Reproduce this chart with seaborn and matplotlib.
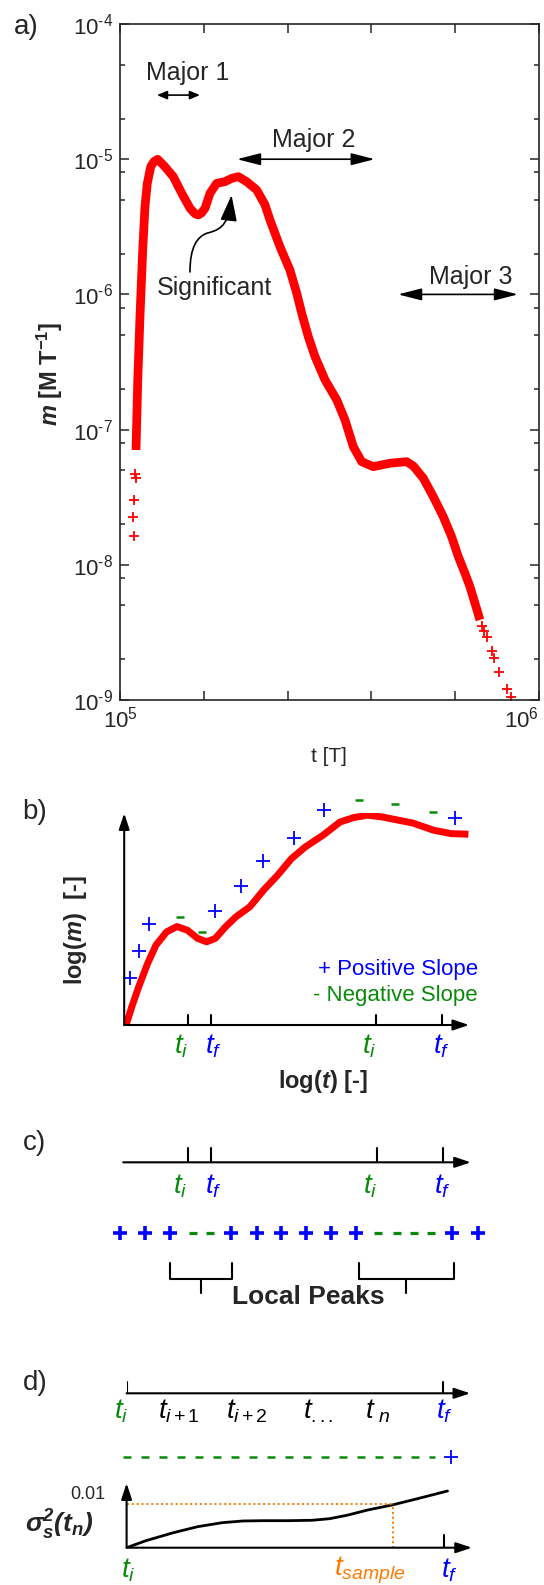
import numpy as np
import pandas as pd
import seaborn as sns
import matplotlib
matplotlib.use("Agg")
import matplotlib.pyplot as plt
from matplotlib.path import Path
from matplotlib.patches import FancyArrowPatch
from matplotlib.ticker import FixedLocator, NullFormatter

# ---------------------------------------------------------------- data
# a) response m(t): dense band of samples
t_band = [1.092e5, 1.102e5, 1.116e5, 1.133e5, 1.147e5, 1.162e5, 1.184e5, 1.205e5,
          1.230e5, 1.280e5, 1.340e5, 1.404e5, 1.469e5, 1.510e5, 1.538e5, 1.565e5,
          1.596e5, 1.640e5, 1.701e5, 1.780e5, 1.848e5, 1.916e5, 2.006e5, 2.120e5,
          2.219e5, 2.280e5, 2.409e5, 2.545e5, 2.641e5, 2.715e5, 2.815e5, 2.921e5,
          3.086e5, 3.290e5, 3.443e5, 3.604e5, 3.774e5, 4.023e5, 4.410e5, 4.833e5,
          5.012e5, 5.295e5, 5.594e5, 5.909e5, 6.188e5, 6.418e5, 6.658e5, 6.843e5,
          7.034e5, 7.230e5]
m_band = [7.06e-8, 2.20e-7, 6.84e-7, 2.13e-6, 4.45e-6, 6.63e-6, 8.80e-6, 9.60e-6,
          9.98e-6, 8.80e-6, 7.43e-6, 5.60e-6, 4.34e-6, 3.95e-6, 3.87e-6, 4.00e-6,
          4.34e-6, 5.60e-6, 6.63e-6, 6.82e-6, 7.22e-6, 7.43e-6, 6.82e-6, 5.92e-6,
          4.59e-6, 3.55e-6, 2.25e-6, 1.51e-6, 1.02e-6, 7.25e-7, 4.86e-7, 3.46e-7,
          2.33e-7, 1.66e-7, 1.18e-7, 7.48e-8, 5.79e-8, 5.32e-8, 5.64e-8, 5.79e-8,
          5.38e-8, 4.37e-8, 3.19e-8, 2.27e-8, 1.61e-8, 1.15e-8, 8.65e-9, 6.89e-9,
          5.19e-9, 3.91e-9]
# isolated early and late samples
t_sparse = [1.086e5, 1.090e5, 1.082e5, 1.076e5, 1.080e5,
            7.320e5, 7.404e5, 7.502e5, 7.710e5, 7.821e5, 8.039e5, 8.399e5, 8.573e5]
m_sparse = [4.70e-8, 4.37e-8, 3.01e-8, 2.27e-8, 1.64e-8,
            3.55e-9, 3.26e-9, 2.94e-9, 2.32e-9, 2.03e-9, 1.62e-9, 1.20e-9, 1.05e-9]
# time ranges of the major features
major_names = ["Major 1", "Major 2", "Major 3"]
major_t0 = [1.225e5, 1.902e5, 4.609e5]
major_t1 = [1.552e5, 4.055e5, 8.910e5]
major_m = [2.98e-5, 1.0e-5, 1.0e-6]

# b) schematic log(m) vs log(t)
b_logt = [0.000, 0.007, 0.022, 0.042, 0.068, 0.092, 0.123, 0.153, 0.183, 0.213, 0.239,
          0.264, 0.294, 0.324, 0.364, 0.404, 0.445, 0.485, 0.525, 0.576, 0.626,
          0.666, 0.706, 0.747, 0.787, 0.837, 0.897, 0.948, 0.998]
b_logm = [0.000, 0.008, 0.086, 0.180, 0.291, 0.377, 0.440, 0.465, 0.448, 0.409, 0.393,
          0.409, 0.464, 0.511, 0.558, 0.637, 0.708, 0.786, 0.841, 0.896, 0.959,
          0.980, 0.991, 0.983, 0.970, 0.954, 0.920, 0.904, 0.901]
pos_slope_t = [0.017, 0.042, 0.072, 0.262, 0.339, 0.402, 0.493, 0.578, 0.958]
pos_slope_m = [0.220, 0.349, 0.476, 0.538, 0.656, 0.775, 0.885, 1.017, 0.980]
neg_slope_t = [0.161, 0.225, 0.681, 0.784, 0.895]
neg_slope_m = [0.511, 0.440, 1.061, 1.046, 1.006]
peak_ticks = [0.186, 0.251, 0.730, 0.921]
peak_label_pos = [0.165, 0.259, 0.711, 0.920]
peak_labels = ["i", "f", "i", "f"]

# c) slope sign sequence
sign_seq = ["+", "+", "+", "-", "-", "+", "+", "+", "+", "+", "+",
            "-", "-", "-", "-", "+", "+"]
sign_pos = [-0.013, 0.060, 0.133, 0.200, 0.250, 0.309, 0.385, 0.455, 0.528,
            0.601, 0.673, 0.736, 0.790, 0.840, 0.890, 0.951, 1.025]
c_ticks = [0.186, 0.251, 0.732, 0.925]
c_label_pos = [0.163, 0.259, 0.714, 0.923]
peak_groups = [(0.133, 0.312, 0.222), (0.681, 0.956, 0.817)]

# d) running variance inside one peak
d_labels = [r"$t_i$", r"$t_{i+1}$", r"$t_{i+2}$", r"$t_{...}$", r"$t_{\ n}$", r"$t_f$"]
d_label_pos = [-0.015, 0.152, 0.351, 0.557, 0.729, 0.924]
d_label_col = ["green", "black", "black", "black", "black", "blue"]
sig_t = [0.000, 0.056, 0.136, 0.207, 0.278, 0.338, 0.399, 0.470, 0.540, 0.591,
         0.641, 0.702, 0.773, 0.843, 0.934]
sig_var = [0.0, 0.00160, 0.00343, 0.00481, 0.00572, 0.00611, 0.00618, 0.00618,
           0.00627, 0.00664, 0.00741, 0.00863, 0.00977, 0.01114, 0.01297]
var_threshold = 0.01
t_sample = 0.775

# ---------------------------------------------------------------- style
sns.set_style("ticks")
plt.rcParams["font.family"] = ["Liberation Sans", "DejaVu Sans"]
plt.rcParams["mathtext.fontset"] = "custom"
plt.rcParams["mathtext.rm"] = "Liberation Sans"
plt.rcParams["mathtext.it"] = "Liberation Sans:italic"
plt.rcParams["mathtext.bf"] = "Liberation Sans:bold"
plt.rcParams["mathtext.bfit"] = "Liberation Sans:italic:bold"
plt.rcParams["mathtext.sf"] = "Liberation Sans"
plt.rcParams["axes.unicode_minus"] = False

GREEN = "#0a8a0a"
BLUE = "#0000ff"
ORANGE = "#ff7a00"
W, H = 544, 1585
fig = plt.figure(figsize=(W / 100, H / 100), dpi=100)


def rect(l, t, r, b):
    return [l / W, 1 - b / H, (r - l) / W, (b - t) / H]


def arrow(ax, x0, y0, x1, y1, style="-|>,head_length=0.6,head_width=0.2",
          scale=16, lw=1.5, color="black"):
    ax.annotate("", xy=(x1, y1), xytext=(x0, y0),
                arrowprops=dict(arrowstyle=style, mutation_scale=scale, lw=lw,
                                color=color, shrinkA=0, shrinkB=0),
                annotation_clip=False)


def blank(ax):
    ax.set_axis_off()
    ax.set_xlim(0, 1)
    ax.set_ylim(0, 1)


def pow10(e):
    if e < 0:
        return rf"$10^{{\text{{-{abs(e)}}}}}$"
    return rf"$10^{{{e}}}$"


# ---------------------------------------------------------------- panel a
ax = fig.add_axes(rect(120, 24, 539, 700))
ax.set_xscale("log")
ax.set_yscale("log")
sns.lineplot(x=t_band, y=m_band, sort=False, estimator=None, color="red",
             lw=6.3, ax=ax, solid_capstyle="butt", solid_joinstyle="round")
sns.scatterplot(x=t_sparse, y=m_sparse, marker="+", color="red", s=55,
                linewidth=1.3, ax=ax)
ax.set_xlim(1e5, 1e6)
ax.set_ylim(1e-9, 1e-4)
ax.set_xticks([1e5, 1e6], labels=[pow10(5), pow10(6)])
ax.get_xticklabels()[1].set_horizontalalignment("right")
ax.xaxis.set_minor_locator(FixedLocator([10 ** 5.2, 10 ** 5.4, 10 ** 5.6, 10 ** 5.8]))
ax.xaxis.set_minor_formatter(NullFormatter())
ydec = list(range(-9, -3))
ax.set_yticks([10.0 ** e for e in ydec], labels=[pow10(e) for e in ydec])
ym = [k * 10.0 ** e for e in range(-9, -4) for k in (2, 5, 8)]
ym = [v for v in ym if v < 7e-5]
ax.yaxis.set_minor_locator(FixedLocator(ym))
ax.yaxis.set_minor_formatter(NullFormatter())
for s in ax.spines.values():
    s.set_linewidth(1.2)
ax.tick_params(which="both", direction="in", top=True, right=True, width=1.1,
               labelsize=16)
ax.tick_params(axis="x", which="both", length=6.5, pad=5)
ax.tick_params(axis="y", which="major", length=6.5, pad=5)
ax.tick_params(axis="y", which="minor", length=3.6)
ax.set_xlabel("t [T]", fontsize=15)
ax.xaxis.set_label_coords(0.499, -0.084)
ax.xaxis.label.set_verticalalignment("center")
ax.set_ylabel(r"$\mathbfit{m}$ [M T$^{\mathbf{-1}}$]", fontsize=17, fontweight="bold")
ax.yaxis.set_label_coords(-0.167, 0.482)
ax.yaxis.label.set_verticalalignment("center")

for name, t0, t1, mm in zip(major_names, major_t0, major_t1, major_m):
    if name == "Major 1":
        arrow(ax, t0, mm, t1, mm, style="<|-|>,head_length=0.6,head_width=0.25",
              scale=10, lw=1.2)
    else:
        arrow(ax, t0, mm, t1, mm, style="<|-|>,head_length=0.9,head_width=0.23",
              scale=16, lw=1.2)
ax.text(1.453e5, 4.34e-5, "Major 1", fontsize=18, ha="center", va="center")
ax.text(2.90e5, 1.387e-5, "Major 2", fontsize=18, ha="center", va="center")
ax.text(6.866e5, 1.352e-6, "Major 3", fontsize=18, ha="center", va="center")
ax.text(1.676e5, 1.109e-6, "Significant", fontsize=18, ha="center", va="center")
sig_path = Path(
    [(1.469e5, 1.466e-6), (1.469e5, 2.25e-6), (1.529e5, 2.70e-6), (1.622e5, 2.85e-6),
     (1.770e5, 3.05e-6), (1.815e5, 3.44e-6), (1.846e5, 5.43e-6)],
    [Path.MOVETO, Path.CURVE4, Path.CURVE4, Path.CURVE4,
     Path.CURVE4, Path.CURVE4, Path.CURVE4])
ax.add_patch(FancyArrowPatch(path=sig_path, transform=ax.transData,
                             arrowstyle="-|>,head_length=1.0,head_width=0.32",
                             mutation_scale=16, lw=1.2, color="black"))
fig.text(14 / W, 1 - 27 / H, "a)", fontsize=20, ha="left", va="center")

# ---------------------------------------------------------------- panel b
bx = fig.add_axes(rect(124.2, 813.3, 469.1, 1025))
blank(bx)
sns.lineplot(x=b_logt, y=b_logm, sort=False, estimator=None, color="red", lw=5,
             ax=bx, solid_capstyle="butt")
bx.plot(pos_slope_t, pos_slope_m, ls="none", marker="+", ms=10, mew=1.3,
        color=BLUE, clip_on=False)
bx.plot(neg_slope_t, neg_slope_m, ls="none", marker="_", ms=5.5, mew=1.8,
        color=GREEN, clip_on=False)
arrow(bx, 0, 0, 0, 1.0)
arrow(bx, 0, 0, 1.0, 0)
for x, xl, sub in zip(peak_ticks, peak_label_pos, peak_labels):
    bx.plot([x, x], [0, 0.047], color="black", lw=1.5, clip_on=False)
    bx.text(xl, -0.102, rf"$t_{sub}$", fontsize=20, ha="center", va="center",
            color=GREEN if sub == "i" else BLUE)
bx.text(1.026, 0.264, "+ Positive Slope", color=BLUE, fontsize=16, ha="right",
        va="center")
bx.text(1.026, 0.138, "- Negative Slope", color=GREEN, fontsize=16, ha="right",
        va="center")
bx.text(-0.141, 0.448, r"log($\mathbfit{m}$)  [-]", rotation=90, fontsize=17,
        fontweight="bold", ha="center", va="center")
bx.text(0.576, -0.269, r"log($\mathbfit{t}$) [-]", fontsize=17,
        fontweight="bold", ha="center", va="center")
fig.text(22.5 / W, 1 - 811.7 / H, "b)", fontsize=20, ha="left", va="center")

# ---------------------------------------------------------------- panel c
cx = fig.add_axes(rect(124.2, 1140, 469.1, 1320))
blank(cx)
arrow(cx, -0.003, 0.876, 1.005, 0.876)
for x, xl, sub in zip(c_ticks, c_label_pos, peak_labels):
    cx.plot([x, x], [0.876, 0.954], color="black", lw=1.5)
    cx.text(xl, 0.741, rf"$t_{sub}$", fontsize=20, ha="center", va="center",
            color=GREEN if sub == "i" else BLUE)
signs = pd.DataFrame({"pos": sign_pos, "sign": sign_seq})
plus = signs[signs["sign"] == "+"]
minus = signs[signs["sign"] == "-"]
cx.plot(plus["pos"], [0.485] * len(plus), ls="none", marker="+", ms=10.5, mew=2.6,
        color=BLUE, clip_on=False)
cx.plot(minus["pos"], [0.485] * len(minus), ls="none", marker="_", ms=5.5, mew=2.3,
        color=GREEN, clip_on=False)
for x0, x1, xm in peak_groups:
    cx.plot([x0, x0, x1, x1], [0.315, 0.228, 0.228, 0.315], color="black", lw=1.5,
            solid_joinstyle="round")
    cx.plot([xm, xm], [0.228, 0.148], color="black", lw=1.5)
cx.text(0.535, 0.125, "Local Peaks", fontsize=19, fontweight="bold",
        ha="center", va="center")
fig.text(23 / W, 1 - 1143 / H, "c)", fontsize=20, ha="left", va="center")

# ---------------------------------------------------------------- panel d
dx = fig.add_axes(rect(126.6, 1370, 470.2, 1470))
blank(dx)
arrow(dx, 0, 0.767, 1.0, 0.767)
for x in (0.0, 0.921):
    dx.plot([x, x], [0.767, 0.883], color="black", lw=1.5)
for lab, xl, col in zip(d_labels, d_label_pos, d_label_col):
    dx.text(xl, 0.583, lab, fontsize=20, ha="center", va="center",
            color=GREEN if col == "green" else (BLUE if col == "blue" else "black"))
dx.plot([-0.010, 0.899], [0.133, 0.133], color=GREEN, lw=1.8,
        dashes=(3.2, 4.0), clip_on=False)
dx.plot([0.944], [0.133], ls="none", marker="+", ms=10, mew=1.3, color=BLUE)
fig.text(22.5 / W, 1 - 1383 / H, "d)", fontsize=20, ha="left", va="center")

ex = fig.add_axes(rect(126.6, 1483.3, 470.2, 1547.7))
ex.set_axis_off()
ex.set_xlim(0, 1)
ex.set_ylim(0, 0.01473)
sns.lineplot(x=sig_t, y=sig_var, sort=False, estimator=None, color="black",
             lw=2.0, ax=ex)
ex.plot([0, t_sample], [var_threshold, var_threshold], color=ORANGE, lw=1.4,
        ls=(0, (1, 1.5)))
ex.plot([t_sample, t_sample], [0, var_threshold], color=ORANGE, lw=1.4,
        ls=(0, (1, 1.5)))
arrow(ex, 0, 0, 0, 0.01473)
arrow(ex, 0, 0, 1.005, 0)
ex.plot([0.924, 0.924], [0, 0.0029], color="black", lw=1.5)
ex.text(-0.0605, 0.01206, "0.01", fontsize=13, ha="right", va="center")
ex.text(-0.197, 0.0052, r"$\mathbfit{\sigma^2_s(t_n)}$", fontsize=19,
        ha="center", va="center")
ex.text(0.005, -0.0051, r"$t_i$", fontsize=20, color=GREEN, ha="center", va="center")
ex.text(0.707, -0.0051, r"$t_{sample}$", fontsize=20, color=ORANGE, ha="center",
        va="center")
ex.text(0.939, -0.0051, r"$t_f$", fontsize=20, color=BLUE, ha="center", va="center")

fig.savefig("out.png", dpi=100)
